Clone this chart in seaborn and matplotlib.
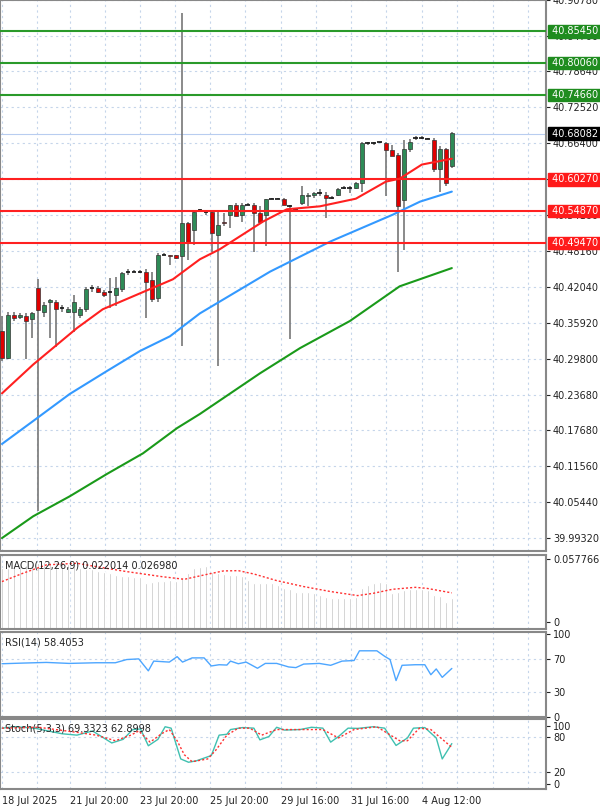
import numpy as np
import matplotlib
matplotlib.use("Agg")
from matplotlib import pyplot as plt
import seaborn as sns

sns.set_style('white')
plt.rcParams['font.family'] = 'DejaVu Sans'

# --- price candles (4h) ---
opens = [40.345, 40.299, 40.373, 40.368, 40.370, 40.365, 40.418, 40.378, 40.394, 40.394,
         40.384, 40.377, 40.378, 40.372, 40.382, 40.418, 40.418, 40.412, 40.412, 40.407,
         40.416, 40.445, 40.446, 40.446, 40.446, 40.431, 40.401, 40.475, 40.474, 40.474,
         40.472, 40.528, 40.516, 40.550, 40.548, 40.548, 40.509, 40.531, 40.542, 40.560,
         40.542, 40.560, 40.559, 40.545, 40.543, 40.570, 40.570, 40.569, 40.557, 40.553,
         40.562, 40.574, 40.576, 40.579, 40.577, 40.572, 40.576, 40.589, 40.589, 40.589,
         40.596, 40.664, 40.664, 40.666, 40.664, 40.652, 40.645, 40.567, 40.654, 40.674,
         40.674, 40.672, 40.669, 40.620, 40.655, 40.626]
highs = [40.370, 40.377, 40.378, 40.375, 40.375, 40.378, 40.433, 40.395, 40.399, 40.397,
         40.390, 40.385, 40.406, 40.385, 40.419, 40.423, 40.421, 40.414, 40.435, 40.436,
         40.445, 40.450, 40.448, 40.448, 40.450, 40.446, 40.477, 40.477, 40.475, 40.475,
         40.885, 40.531, 40.550, 40.552, 40.550, 40.550, 40.548, 40.545, 40.560, 40.562,
         40.562, 40.562, 40.562, 40.557, 40.570, 40.572, 40.572, 40.572, 40.559, 40.555,
         40.591, 40.579, 40.581, 40.587, 40.581, 40.574, 40.589, 40.591, 40.592, 40.598,
         40.666, 40.666, 40.666, 40.667, 40.666, 40.662, 40.647, 40.669, 40.671, 40.676,
         40.676, 40.674, 40.674, 40.659, 40.657, 40.683]
lows = [40.294, 40.297, 40.362, 40.365, 40.297, 40.333, 40.039, 40.368, 40.333, 40.317,
        40.378, 40.375, 40.343, 40.367, 40.378, 40.412, 40.409, 40.402, 40.384, 40.387,
        40.412, 40.441, 40.445, 40.443, 40.367, 40.395, 40.394, 40.474, 40.457, 40.468,
        40.319, 40.465, 40.492, 40.548, 40.542, 40.480, 40.285, 40.523, 40.521, 40.540,
        40.531, 40.559, 40.480, 40.530, 40.489, 40.569, 40.569, 40.559, 40.331, 40.552,
        40.560, 40.557, 40.572, 40.574, 40.538, 40.570, 40.574, 40.587, 40.579, 40.586,
        40.582, 40.662, 40.662, 40.664, 40.574, 40.642, 40.446, 40.482, 40.650, 40.669,
        40.671, 40.671, 40.616, 40.581, 40.591, 40.623]
closes = [40.299, 40.373, 40.367, 40.372, 40.362, 40.375, 40.380, 40.390, 40.397, 40.382,
          40.384, 40.382, 40.394, 40.382, 40.416, 40.418, 40.412, 40.407, 40.412, 40.418,
          40.443, 40.446, 40.446, 40.446, 40.429, 40.399, 40.475, 40.475, 40.472, 40.470,
          40.528, 40.497, 40.548, 40.550, 40.548, 40.511, 40.526, 40.528, 40.559, 40.540,
          40.560, 40.560, 40.545, 40.530, 40.569, 40.570, 40.570, 40.559, 40.557, 40.553,
          40.577, 40.577, 40.579, 40.579, 40.572, 40.572, 40.587, 40.589, 40.589, 40.596,
          40.664, 40.664, 40.664, 40.666, 40.652, 40.643, 40.557, 40.655, 40.667, 40.674,
          40.674, 40.672, 40.620, 40.655, 40.596, 40.681]

# moving averages read at sample candles
ma_red_x = [0, 5.2, 12.5, 16.8, 23, 28.5, 33, 36.3, 43.5, 47.5, 53, 59, 64, 66.3, 70, 75]
ma_red_y = [40.239, 40.288, 40.350, 40.382, 40.409, 40.433, 40.467, 40.484, 40.531, 40.552,
            40.557, 40.570, 40.599, 40.604, 40.628, 40.638]
ma_blue_x = [0, 5.2, 11.3, 17.5, 23, 28, 33, 44.7, 54.7, 65.2, 69.7, 75]
ma_blue_y = [40.153, 40.192, 40.238, 40.277, 40.311, 40.336, 40.375, 40.446, 40.497, 40.543,
             40.565, 40.582]
ma_green_x = [0, 5.2, 11.3, 17.5, 23.5, 29.2, 33, 43, 49.7, 58, 66.3, 75]
ma_green_y = [39.993, 40.030, 40.064, 40.102, 40.137, 40.180, 40.204, 40.273, 40.316, 40.362,
              40.421, 40.452]

res_levels = [40.85450, 40.80060, 40.74660]
sup_levels = [40.60270, 40.54870, 40.49470]
last_price = 40.68082
price_ticks = [40.90780, 40.84700, 40.78640, 40.72520, 40.66400, 40.60280, 40.54160, 40.48160,
               40.42040, 40.35920, 40.29800, 40.23680, 40.17680, 40.11560, 40.05440, 39.99320]

# --- MACD ---
macd_hist = [.0496, .0496, .0512, .0518, .0528, .0537, .0543, .0558, .0558, .0558,
             .0543, .0537, .0528, .0496, .0491, .0488, .0475, .0466, .0451, .0435,
             .0426, .0426, .0420, .0414, .0358, .0374, .0383, .0383, .0389, .0383,
             .0420, .0456, .0496, .0512, .0518, .0466, .0451, .0444, .0435, .0435,
             .0426, .0389, .0358, .0358, .0358, .0358, .0343, .0312, .0303, .0282,
             .0282, .0282, .0266, .0251, .0236, .0220, .0220, .0220, .0220, .0236,
             .0312, .0343, .0358, .0368, .0358, .0266, .0282, .0297, .0303, .0303,
             .0303, .0297, .0251, .0242, .0189, .0220]
macd_sig_x = [0, 3.5, 7.4, 12.5, 15.7, 20.8, 26.6, 30.4, 33.7, 36.9, 39.4, 42, 45.8, 50.3,
              54.8, 59.3, 61.9, 65.1, 68.9, 70.8, 75]
macd_sig_y = [.0374, .0451, .0528, .0543, .0512, .0466, .0420, .0395, .0435, .0472, .0475,
              .0444, .0383, .0328, .0282, .0245, .0266, .0303, .0321, .0312, .0270]

# --- RSI ---
rsi_x = [0, 3.5, 7.4, 11.2, 15.7, 18.9, 20.8, 22.8, 24.4, 25.3, 27.9, 29.2, 30.1, 31.7, 33.7,
         34.9, 36.2, 37.5, 38.1, 39.4, 40.7, 42.6, 43.9, 45.8, 47.8, 49, 50.3, 52.9, 54.8,
         56.7, 58.7, 59.6, 62.5, 63.8, 64.7, 65.7, 66.7, 68.9, 70.5, 71.5, 72.4, 73.4, 75]
rsi_y = [64.1, 64.9, 65.7, 64.5, 65.3, 65.3, 69.2, 70.0, 55.5, 67.3, 66.1, 72.7, 66.1, 71.2,
         71.2, 61.4, 62.9, 62.5, 67.3, 64.1, 66.1, 58.6, 64.5, 64.5, 60.2, 59.4, 63.7, 64.5,
         62.2, 67.3, 68.0, 79.8, 79.8, 73.1, 69.2, 43.7, 62.2, 62.9, 62.9, 50.8, 57.8, 47.6,
         58.4]

# --- Stochastic ---
st_main_x = [0, 2.2, 5.4, 10, 12.5, 15.1, 18.3, 20.2, 21.8, 23.1, 24.4, 26, 27.2, 28.2, 29.8,
             31.1, 32.4, 34.9, 36.2, 37.5, 38.1, 40.1, 42, 43, 44.5, 45.8, 47.1, 49.7, 51.6,
             53.5, 54.8, 56.1, 57.7, 59.3, 61.9, 63.8, 65.7, 67.6, 68.6, 70.5, 72.4, 73.4, 75]
st_main_y = [95.8, 98.2, 95.8, 86.2, 83.8, 91.0, 70.4, 76.6, 93.4, 94.4, 65.6, 76.6, 98.2, 95.8,
             43.0, 37.3, 39.7, 48.8, 83.8, 85.3, 93.4, 96.8, 95.8, 75.7, 81.4, 97.3, 92.5, 93.4,
             97.3, 95.8, 71.8, 81.4, 95.8, 95.4, 98.2, 95.8, 66.1, 79.0, 95.8, 96.8, 79.0, 43.0,
             69.3]
st_sig_x = [0, 6.1, 12.5, 15.7, 18.9, 21.5, 22.8, 24.7, 26.6, 27.9, 29.2, 30.4, 31.7, 34.3,
            35.6, 37.5, 39.4, 41.3, 43.3, 45.8, 50.3, 53.5, 56.1, 58.7, 62.5, 66.3, 67.6, 69.6,
            71.5, 75]
st_sig_y = [95.8, 97.3, 88.6, 83.8, 74.2, 83.8, 91.0, 71.8, 86.2, 93.4, 74.2, 50.2, 38.2, 43.0,
            57.4, 83.8, 95.8, 95.8, 83.8, 93.4, 93.4, 93.4, 79.0, 93.4, 98.2, 74.2, 74.2, 95.8,
            93.4, 62.9]

date_pos = [0, 11.3, 23, 34.7, 46.5, 58.2, 70]
date_labels = ["18 Jul 2025", "21 Jul 20:00", "23 Jul 20:00", "25 Jul 20:00",
               "29 Jul 16:00", "31 Jul 16:00", "4 Aug 12:00"]

GRID = '#c5d5ea'
XL = (-0.33, 90.7)
W, H = 600, 809
fig = plt.figure(figsize=(W / 100, H / 100), dpi=100)
aw = 546 / W


def panel(top, bottom):
    return fig.add_axes([0, 1 - bottom / H, aw, (bottom - top) / H])


ax = panel(0, 551)
am = panel(555, 629)
ar = panel(632, 717)
ast = panel(719, 789)

vgrid = [p + d for p in date_pos for d in (0, 5.85)] + [81.9, 87.75]
for a in (ax, am, ar, ast):
    a.set_xlim(*XL)
    a.set_xticks([])
    a.yaxis.tick_right()
    a.tick_params(axis='y', labelsize=7, length=3, pad=2, colors='#222222')
    for s in a.spines.values():
        s.set_color('#888888')
        s.set_linewidth(1.5)
    for v in vgrid:
        a.axvline(v, color=GRID, ls=(0, (2, 3)), lw=0.8, zorder=0)

# main chart
ax.set_ylim(39.971, 40.905)
ax.set_yticks(price_ticks)
ax.set_yticklabels([f"{t:.5f}" for t in price_ticks])
for t in price_ticks:
    ax.axhline(t, color=GRID, ls=(0, (2, 3)), lw=0.8, zorder=0)

idx = np.arange(len(opens))
for i in idx:
    o, h, l, c = opens[i], highs[i], lows[i], closes[i]
    ax.vlines(i, l, h, color='#777777', lw=1.2, zorder=2)
    if abs(c - o) < 0.0015:
        ax.hlines(c, i - 0.4, i + 0.4, color='#111111', lw=1.2, zorder=3)
    else:
        col = '#2e8b57' if c > o else '#e00000'
        ax.bar(i, abs(c - o), bottom=min(o, c), width=0.75, color=col,
               edgecolor='#333333', lw=0.5, zorder=3)

sns.lineplot(x=ma_green_x, y=ma_green_y, ax=ax, color='#1a9a1a', lw=1.5, zorder=4)
sns.lineplot(x=ma_blue_x, y=ma_blue_y, ax=ax, color='#3399ff', lw=1.5, zorder=4)
sns.lineplot(x=ma_red_x, y=ma_red_y, ax=ax, color='#ff2020', lw=1.5, zorder=4)

ax.axhline(last_price, color='#b8cdf0', lw=0.8, zorder=1)
for lv in res_levels:
    ax.axhline(lv, color='#2a9a2a', lw=1.5, zorder=5)
for lv in sup_levels:
    ax.axhline(lv, color='#ff2020', lw=1.5, zorder=5)

def tag(val, fc):
    ax.text(1.006, val, f" {val:.5f} ", transform=ax.get_yaxis_transform(), fontsize=7,
            color='white', va='center', ha='left', clip_on=False, zorder=10,
            bbox=dict(boxstyle='square,pad=0.12', fc=fc, ec=fc))

for lv in res_levels:
    tag(lv, '#1f8c1f')
for lv in sup_levels:
    tag(lv, '#ff1a1a')
tag(last_price, '#000000')

# MACD
am.set_ylim(-0.0063, 0.0619)
am.set_yticks([0, 0.057766])
am.set_yticklabels(['0', '0.057766'])
am.bar(idx, np.array(macd_hist) + 0.0063, bottom=-0.0063, width=0.4, color='#bdbdbd', zorder=2)
sns.lineplot(x=macd_sig_x, y=macd_sig_y, ax=am, color='#ff3030', lw=1, ls=(0, (1.5, 1.5)), zorder=3)
am.text(0.01, 0.93, "MACD(12,26,9) 0.022014 0.026980", transform=am.transAxes,
        fontsize=7, va='top', color='#222222')

# RSI
ar.set_ylim(-0.5, 102.6)
ar.set_yticks([0, 30, 70, 100])
for lv in (30, 70):
    ar.axhline(lv, color=GRID, ls=(0, (2, 3)), lw=0.8, zorder=0)
sns.lineplot(x=rsi_x, y=rsi_y, ax=ar, color='#4da6ff', lw=1, zorder=3)
ar.text(0.01, 0.93, "RSI(14) 58.4053", transform=ar.transAxes, fontsize=7, va='top',
        color='#222222')

# Stochastic
ast.set_ylim(-8.6, 111.5)
ast.set_yticks([0, 20, 80, 100])
for lv in (20, 80):
    ast.axhline(lv, color=GRID, ls=(0, (2, 3)), lw=0.8, zorder=0)
sns.lineplot(x=st_main_x, y=st_main_y, ax=ast, color='#40c0b0', lw=1, zorder=3)
sns.lineplot(x=st_sig_x, y=st_sig_y, ax=ast, color='#ff3030', lw=1, ls=(0, (1.5, 1.5)), zorder=4)
ast.text(0.01, 0.93, "Stoch(5,3,3) 69.3323 62.8998", transform=ast.transAxes, fontsize=7,
         va='top', color='#222222')

ast.set_xticks(date_pos)
ast.set_xticklabels(date_labels)
ast.tick_params(axis='x', labelsize=7, length=3, pad=2, colors='#222222')
for lbl in ast.get_xticklabels():
    lbl.set_ha('left')

fig.savefig('out.png', dpi=100, facecolor='white')
